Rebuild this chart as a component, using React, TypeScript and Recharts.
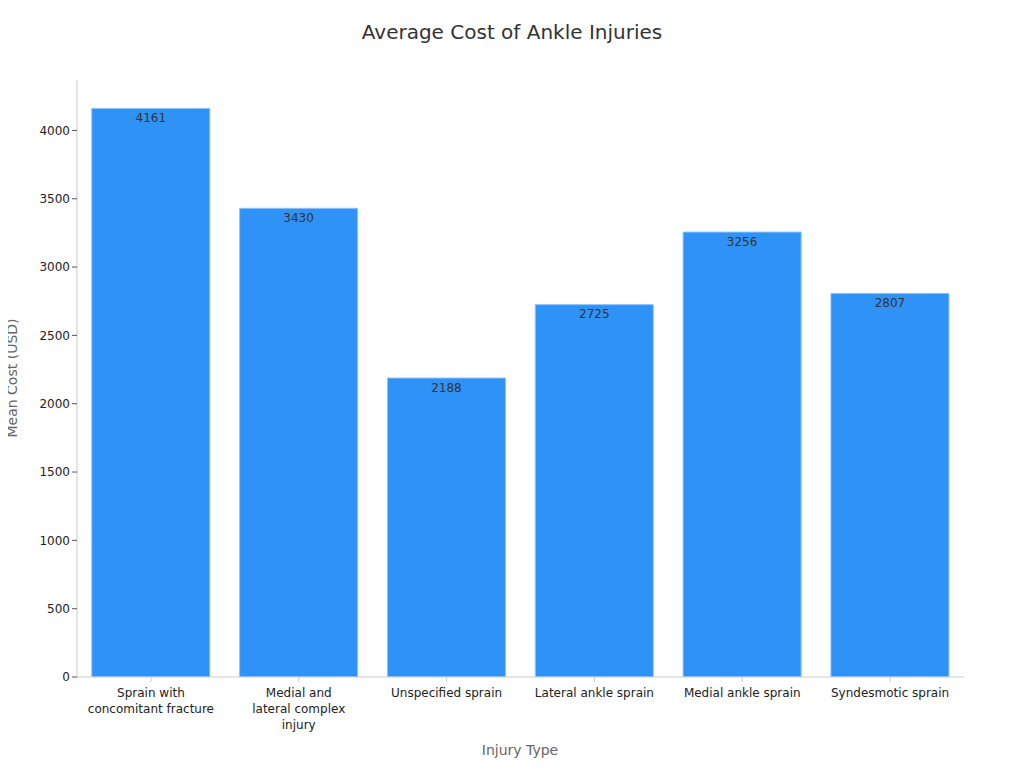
import { Bar, BarChart, LabelList, XAxis, YAxis } from "recharts";

const categories = [
  "Sprain with concomitant fracture",
  "Medial and lateral complex injury",
  "Unspecified sprain",
  "Lateral ankle sprain",
  "Medial ankle sprain",
  "Syndesmotic sprain",
];
const tickLines = [
  ["Sprain with", "concomitant fracture"],
  ["Medial and", "lateral complex", "injury"],
  ["Unspecified sprain"],
  ["Lateral ankle sprain"],
  ["Medial ankle sprain"],
  ["Syndesmotic sprain"],
];
const meanCost = [4161, 3430, 2188, 2725, 3256, 2807];
const yTicks = [0, 500, 1000, 1500, 2000, 2500, 3000, 3500, 4000];

const data = categories.map((name, i) => ({ name, cost: meanCost[i] }));

const font = "'DejaVu Sans', sans-serif";

const CategoryTick = (props: any) => {
  const { x, y, payload } = props;
  const lines = tickLines[payload.index] ?? [payload.value];
  return (
    <text x={x} y={y} textAnchor="middle" fontSize={12} fill="#222" fontFamily={font}>
      {lines.map((l: string, i: number) => (
        <tspan key={i} x={x} dy={i === 0 ? 13 : 16}>
          {l}
        </tspan>
      ))}
    </text>
  );
};

const App = () => {
  return (
    <div style={{ width: 1024, height: 768, margin: "-8px 0 0 -8px", fontFamily: font }}>
      <BarChart
        width={1024}
        height={768}
        data={data}
        margin={{ top: 80, right: 60, left: 1, bottom: 0 }}
        barCategoryGap="10%"
      >
        <text x={512} y={33} textAnchor="middle" dominantBaseline="middle" fontSize={20} fill="#333" fontFamily={font}>
          Average Cost of Ankle Injuries
        </text>
        <text x={520} y={751} textAnchor="middle" dominantBaseline="middle" fontSize={14} fill="#666" fontFamily={font}>
          Injury Type
        </text>
        <text
          x={13}
          y={378}
          textAnchor="middle"
          dominantBaseline="middle"
          fontSize={14}
          fill="#666"
          fontFamily={font}
          transform="rotate(-90 13 378)"
        >
          Mean Cost (USD)
        </text>
        <XAxis
          dataKey="name"
          height={91}
          interval={0}
          stroke="#ccc"
          tickSize={5}
          tickMargin={2}
          tick={<CategoryTick />}
        />
        <YAxis
          width={76}
          domain={[0, 4369]}
          ticks={yTicks}
          allowDataOverflow
          stroke="#ccc"
          tickSize={5}
          tick={{ fontSize: 12, fill: "#222", fontFamily: font }}
          tickLine={{ stroke: "#555" }}
        />
        <Bar dataKey="cost" fill="#2E92F6" stroke="#8CC2F8" strokeWidth={1} isAnimationActive={false}>
          <LabelList dataKey="cost" position="insideTop" offset={5} fontSize={12} fill="#333" fontFamily={font} />
        </Bar>
      </BarChart>
    </div>
  );
};

export default App;
